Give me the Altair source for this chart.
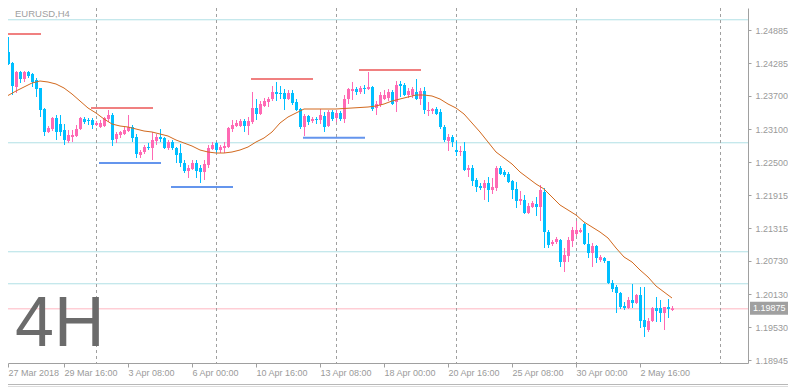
import altair as alt
import pandas as pd

# ---------------- data (EURUSD, H4) ----------------
opens = [
    1.24471, 1.24471, 1.24489, 1.24291, 1.23859, 1.24129, 1.24003, 1.24129, 1.24093, 1.23985,
    1.23841, 1.23463, 1.23049, 1.23103, 1.23301, 1.23193, 1.23085, 1.22887, 1.22959, 1.22977,
    1.23103, 1.23283, 1.23265, 1.23265, 1.23175, 1.23139, 1.23157, 1.23283, 1.23355, 1.22923,
    1.22995, 1.23013, 1.23067, 1.23139, 1.22959, 1.22635, 1.22689, 1.22779, 1.22761, 1.22887,
    1.22959, 1.22941, 1.22761, 1.22869, 1.22761, 1.22671, 1.22491, 1.22347, 1.22383, 1.22491,
    1.22401, 1.22329, 1.22455, 1.22743, 1.22851, 1.22725, 1.22761, 1.22779, 1.23103, 1.23157,
    1.23157, 1.23247, 1.23157, 1.23229, 1.23481, 1.23373, 1.23517, 1.23589, 1.23643, 1.23769,
    1.23751, 1.23751, 1.23643, 1.23751, 1.23589, 1.23463, 1.23139, 1.23337, 1.23247, 1.23283,
    1.23265, 1.23337, 1.23157, 1.23409, 1.23301, 1.23391, 1.23283, 1.23643, 1.23787, 1.23823,
    1.23769, 1.23841, 1.23823, 1.23859, 1.23481, 1.23535, 1.23643, 1.23661, 1.23769, 1.23589,
    1.23913, 1.23895, 1.23715, 1.23715, 1.23769, 1.23643, 1.23787, 1.23427, 1.23427, 1.23463,
    1.23409, 1.23139, 1.22887, 1.22959, 1.22725, 1.22689, 1.22707, 1.22365, 1.22401, 1.22185,
    1.22077, 1.22041, 1.22131, 1.22005, 1.22041, 1.22401, 1.22329, 1.22293, 1.22167, 1.22023,
    1.21807, 1.21825, 1.21591, 1.21699, 1.21753, 1.21699, 1.21969, 1.21249, 1.21033, 1.21069,
    1.21105, 1.20709, 1.20817, 1.21087, 1.21213, 1.21249, 1.21393, 1.21033, 1.20871, 1.20997,
    1.20745, 1.20781, 1.20727, 1.20331, 1.20259, 1.20151, 1.19917, 1.19881, 1.20025, 1.19971,
    1.20115, 1.19665, 1.19485, 1.19647, 1.19881, 1.19881, 1.19791, 1.19899, 1.19845,
]
highs = [
    1.24561, 1.24561, 1.24759, 1.24309, 1.24147, 1.24147, 1.24147, 1.24147, 1.24111, 1.24021,
    1.23841, 1.23481, 1.23157, 1.23319, 1.23355, 1.23355, 1.23193, 1.23085, 1.23085, 1.23175,
    1.23319, 1.23319, 1.23301, 1.23301, 1.23247, 1.23265, 1.23319, 1.23445, 1.23391, 1.23049,
    1.23067, 1.23139, 1.23355, 1.23175, 1.23013, 1.22725, 1.22815, 1.22851, 1.23049, 1.23013,
    1.23103, 1.22959, 1.22905, 1.22905, 1.22779, 1.22833, 1.22545, 1.22455, 1.22545, 1.22545,
    1.22455, 1.22545, 1.22815, 1.22869, 1.22869, 1.22815, 1.22869, 1.23139, 1.23265, 1.23265,
    1.23283, 1.23283, 1.23319, 1.23769, 1.23643, 1.23607, 1.23661, 1.23679, 1.23877, 1.23949,
    1.23877, 1.23823, 1.23805, 1.23805, 1.23643, 1.23481, 1.23373, 1.23355, 1.23319, 1.23319,
    1.23463, 1.23409, 1.23445, 1.23445, 1.23445, 1.23427, 1.23715, 1.23841, 1.23949, 1.23859,
    1.23877, 1.23895, 1.24129, 1.23877, 1.23607, 1.23769, 1.23805, 1.23823, 1.23805, 1.23967,
    1.23967, 1.23931, 1.23841, 1.23859, 1.24003, 1.23841, 1.23859, 1.23589, 1.23481, 1.23499,
    1.23463, 1.23175, 1.23013, 1.22995, 1.22887, 1.22797, 1.22869, 1.22455, 1.22455, 1.22221,
    1.22131, 1.22185, 1.22239, 1.22221, 1.22437, 1.22437, 1.22365, 1.22329, 1.22185, 1.22149,
    1.21987, 1.21915, 1.21771, 1.21807, 1.21879, 1.22095, 1.22041, 1.21285, 1.21105, 1.21159,
    1.21123, 1.20961, 1.21159, 1.21339, 1.21447, 1.21321, 1.21411, 1.21231, 1.21051, 1.21015,
    1.20835, 1.20799, 1.20727, 1.20385, 1.20295, 1.20169, 1.19989, 1.20079, 1.20313, 1.20133,
    1.20259, 1.20259, 1.19701, 1.19899, 1.20079, 1.20025, 1.19899, 1.20043, 1.19917,
]
lows = [
    1.24435, 1.24453, 1.24255, 1.23715, 1.23751, 1.23931, 1.23949, 1.24021, 1.23859, 1.23679,
    1.23319, 1.22977, 1.23031, 1.23067, 1.22905, 1.22977, 1.22815, 1.22851, 1.22869, 1.22959,
    1.23085, 1.23193, 1.23175, 1.23103, 1.23157, 1.23121, 1.23139, 1.23229, 1.22797, 1.22851,
    1.22941, 1.22995, 1.23049, 1.22869, 1.22581, 1.22581, 1.22653, 1.22725, 1.22545, 1.22815,
    1.22869, 1.22743, 1.22725, 1.22725, 1.22491, 1.22419, 1.22311, 1.22221, 1.22365, 1.22221,
    1.22131, 1.22185, 1.22401, 1.22725, 1.22671, 1.22671, 1.22671, 1.22761, 1.23049, 1.23139,
    1.23139, 1.23049, 1.22995, 1.23193, 1.23265, 1.23355, 1.23499, 1.23499, 1.23607, 1.23607,
    1.23643, 1.23445, 1.23625, 1.23535, 1.23427, 1.23103, 1.22977, 1.23175, 1.23211, 1.23193,
    1.23193, 1.23049, 1.23139, 1.23247, 1.23229, 1.23247, 1.23211, 1.23553, 1.23625, 1.23715,
    1.23733, 1.23733, 1.23805, 1.23427, 1.23355, 1.23499, 1.23625, 1.23607, 1.23535, 1.23409,
    1.23679, 1.23697, 1.23661, 1.23661, 1.23625, 1.23535, 1.23373, 1.23337, 1.23373, 1.23355,
    1.23103, 1.22869, 1.22707, 1.22779, 1.22617, 1.22617, 1.22347, 1.22239, 1.22077, 1.21969,
    1.22005, 1.21825, 1.21789, 1.21933, 1.21987, 1.22275, 1.22239, 1.22131, 1.21843, 1.21681,
    1.21735, 1.21573, 1.21573, 1.21681, 1.21537, 1.21447, 1.20961, 1.20961, 1.20997, 1.21033,
    1.20619, 1.20529, 1.20709, 1.20979, 1.21177, 1.21231, 1.21015, 1.20781, 1.20619, 1.20691,
    1.20709, 1.20691, 1.20313, 1.20169, 1.19791, 1.19863, 1.19845, 1.19863, 1.19881, 1.19953,
    1.19521, 1.19359, 1.19449, 1.19629, 1.19629, 1.19629, 1.19485, 1.19701, 1.19827,
]
closes = [
    1.24525, 1.24507, 1.24273, 1.23877, 1.24129, 1.24003, 1.24129, 1.24057, 1.23949, 1.23823,
    1.23445, 1.23049, 1.23121, 1.23301, 1.23049, 1.23049, 1.22905, 1.22995, 1.22995, 1.23103,
    1.23301, 1.23229, 1.23247, 1.23175, 1.23211, 1.23211, 1.23301, 1.23355, 1.22905, 1.23013,
    1.23049, 1.23085, 1.23139, 1.22941, 1.22653, 1.22689, 1.22779, 1.22761, 1.22905, 1.22959,
    1.22923, 1.22761, 1.22869, 1.22761, 1.22635, 1.22491, 1.22347, 1.22401, 1.22491, 1.22347,
    1.22329, 1.22473, 1.22761, 1.22815, 1.22725, 1.22779, 1.22797, 1.23121, 1.23175, 1.23211,
    1.23247, 1.23157, 1.23247, 1.23481, 1.23373, 1.23553, 1.23607, 1.23643, 1.23769, 1.23733,
    1.23733, 1.23643, 1.23751, 1.23571, 1.23445, 1.23139, 1.23337, 1.23229, 1.23283, 1.23265,
    1.23355, 1.23139, 1.23409, 1.23283, 1.23391, 1.23283, 1.23643, 1.23823, 1.23823, 1.23769,
    1.23841, 1.23823, 1.23859, 1.23463, 1.23553, 1.23715, 1.23715, 1.23769, 1.23553, 1.23895,
    1.23877, 1.23715, 1.23787, 1.23823, 1.23643, 1.23787, 1.23445, 1.23445, 1.23463, 1.23373,
    1.23139, 1.22905, 1.22959, 1.22869, 1.22689, 1.22707, 1.22365, 1.22401, 1.22167, 1.22059,
    1.22041, 1.22131, 1.22005, 1.22059, 1.22401, 1.22293, 1.22275, 1.22149, 1.22005, 1.21807,
    1.21843, 1.21591, 1.21717, 1.21771, 1.21699, 1.22005, 1.21249, 1.21015, 1.21069, 1.21123,
    1.20709, 1.20835, 1.21105, 1.21285, 1.21285, 1.21285, 1.21033, 1.20871, 1.20997, 1.20781,
    1.20799, 1.20727, 1.20331, 1.20223, 1.20151, 1.19899, 1.19881, 1.20025, 1.19971, 1.20115,
    1.19647, 1.19539, 1.19647, 1.19881, 1.19827, 1.19791, 1.19899, 1.19863, 1.19875,
]

# moving average
ma_bar = [0, 4, 6, 8, 10, 12, 14, 16, 18, 20,
          22, 24, 26, 28, 30, 32, 34, 36, 38, 40,
          42, 44, 46, 48, 50, 52, 54, 56, 58, 60,
          62, 64, 66, 68, 70, 72, 74, 76, 78, 80,
          84, 88, 92, 94, 96, 98,
          100, 102, 104, 106, 108, 110, 112, 114, 116, 118,
          120, 122, 124, 126, 128, 130, 132, 134, 136, 138,
          140, 142, 144, 146, 148, 150, 152, 154, 156, 158,
          160, 162, 164, 166, 168]
ma_val = [1.23625, 1.23787, 1.23859, 1.23931, 1.23967, 1.23949, 1.23913, 1.23841, 1.23733, 1.23607,
          1.23481, 1.23391, 1.23283, 1.23193, 1.23157, 1.23139, 1.23103, 1.23067, 1.23049, 1.23013,
          1.22977, 1.22905, 1.22851, 1.22797, 1.22725, 1.22689, 1.22671, 1.22671, 1.22689, 1.22725,
          1.22779, 1.22869, 1.22941, 1.23049, 1.23211, 1.23319, 1.23391, 1.23463, 1.23463, 1.23463,
          1.23463, 1.23481, 1.23499, 1.23517, 1.23553, 1.23607,
          1.23643, 1.23679, 1.23715, 1.23715, 1.23697, 1.23643, 1.23553, 1.23481, 1.23373, 1.23211,
          1.23049, 1.22869, 1.22689, 1.22581, 1.22473, 1.22329, 1.22221, 1.22113, 1.22023, 1.21879,
          1.21735, 1.21645, 1.21555, 1.21429, 1.21339, 1.21249, 1.21141, 1.20961, 1.20799, 1.20709,
          1.20565, 1.20439, 1.20277, 1.20169, 1.20061]

# horizontal price levels across the chart
level_price = [1.25078, 1.22864, 1.20902, 1.20326, 1.19875]
level_kind = ["level", "level", "level", "level", "last"]

# short support / resistance segments (bar index from-to)
seg_start = [0, 22.75, 24.75, 42.75, 62.75, 75.75, 89.75]
seg_end = [10.25, 38.25, 40.25, 58.25, 78.25, 91.25, 105.25]
seg_price = [1.24813, 1.23481, 1.22491, 1.22059, 1.24003, 1.22946, 1.24165]
seg_kind = ["resistance", "resistance", "support", "support", "resistance", "support", "resistance"]

# vertical dashed period separators (bar index)
grid_bar = [24, 54, 84, 114, 144, 180]

# axis ticks / labels
x_tick_bar = [2, 16, 32, 48, 64, 80, 96, 112, 128, 144, 160]
x_tick_label = ["27 Mar 2018", "29 Mar 16:00", "3 Apr 08:00", "6 Apr 00:00", "10 Apr 16:00",
                "13 Apr 08:00", "18 Apr 00:00", "20 Apr 16:00", "25 Apr 08:00", "30 Apr 00:00",
                "2 May 16:00"]
y_ticks = [1.18945, 1.19530, 1.20130, 1.20730, 1.21315, 1.21915, 1.22500, 1.23100, 1.23700,
           1.24285, 1.24885]
last_price = [1.19875]

# ---------------- chart ----------------
FONT = "Liberation Sans"
GRAY = "#a0a0a0"
LBL = "#9a9a9a"

n = len(opens)
df = pd.DataFrame({"bar": list(range(n)), "open": opens, "high": highs, "low": lows, "close": closes})
df["dir"] = ["up" if c >= o else "down" for o, c in zip(opens, closes)]
df["top"] = df[["open", "close"]].max(axis=1)
df["bot"] = df[["open", "close"]].min(axis=1)

xs = alt.Scale(domain=[2, 187], nice=False, zero=False)
ys = alt.Scale(domain=[1.18891, 1.25281], nice=False, zero=False)
cs = alt.Scale(domain=["up", "down", "level", "last", "resistance", "support"],
               range=["#ff69b4", "#00bfff", "#b0e0e6", "#ffb6c1", "#f08080", "#6495ed"])

label_expr = "[" + ",".join("'%s'" % s for s in x_tick_label) + "][floor(datum.value/16)]"
xaxis = alt.Axis(values=x_tick_bar, labelExpr=label_expr, labelAlign="left", labelFlush=False,
                 labelOverlap=False, tickSize=4, tickColor=GRAY, domainColor=GRAY,
                 labelColor=LBL, labelFontSize=9, labelFont=FONT, labelPadding=1,
                 grid=False, title=None, orient="bottom")
yaxis = alt.Axis(values=y_ticks, format=".5f", orient="right", tickSize=3, tickColor=GRAY,
                 domainColor=GRAY, labelColor=LBL, labelFontSize=9, labelFont=FONT,
                 labelPadding=4, labelOverlap=False, grid=False, title=None)

levels = alt.Chart(pd.DataFrame({"p": level_price, "k": level_kind})).mark_rule(
    strokeWidth=1, yOffset=0.5).encode(
    y=alt.Y("p:Q", scale=ys, axis=yaxis),
    color=alt.Color("k:N", scale=cs, legend=None))

vgrid = alt.Chart(pd.DataFrame({"b": grid_bar})).transform_calculate(
    xb="datum.b + 0.125").mark_rule(strokeWidth=1, strokeDash=[3, 3], color=GRAY).encode(
    x=alt.X("xb:Q", scale=xs, axis=xaxis))

wicks = alt.Chart(df).transform_calculate(xw="datum.bar + 0.125").mark_rule(strokeWidth=1).encode(
    x=alt.X("xw:Q", scale=xs, axis=xaxis),
    y=alt.Y("low:Q", scale=ys, axis=yaxis), y2="high:Q",
    color=alt.Color("dir:N", scale=cs, legend=None))

bodies = alt.Chart(df).transform_calculate(
    x0="datum.bar - 0.25", x1="datum.bar + 0.5").mark_rect().encode(
    x=alt.X("x0:Q", scale=xs, axis=xaxis), x2="x1:Q",
    y=alt.Y("top:Q", scale=ys, axis=yaxis), y2="bot:Q",
    color=alt.Color("dir:N", scale=cs, legend=None))

ma = alt.Chart(pd.DataFrame({"b": ma_bar, "v": ma_val})).mark_line(
    color="#d2691e", strokeWidth=1).encode(
    x=alt.X("b:Q", scale=xs, axis=xaxis), y=alt.Y("v:Q", scale=ys, axis=yaxis))

segs = alt.Chart(pd.DataFrame({"s": seg_start, "e": seg_end, "p": seg_price, "k": seg_kind})).mark_rule(
    strokeWidth=2).encode(
    x=alt.X("s:Q", scale=xs, axis=xaxis), x2="e:Q",
    y=alt.Y("p:Q", scale=ys, axis=yaxis),
    color=alt.Color("k:N", scale=cs, legend=None))

title_txt = alt.Chart(pd.DataFrame({"t": ["EURUSD,H4"]})).mark_text(
    align="left", baseline="top", font=FONT, fontSize=9.5, color=GRAY).encode(
    x=alt.value(7), y=alt.value(1), text="t:N")

big_txt = alt.Chart(pd.DataFrame({"t": ["4H"]})).mark_text(
    align="left", baseline="alphabetic", font=FONT, fontSize=70, color="#6b6b6b").encode(
    x=alt.value(7), y=alt.value(338), text="t:N")

price_df = pd.DataFrame({"p": last_price})
price_df["t"] = ["%.5f" % v for v in last_price]
price_box = alt.Chart(price_df).mark_point(
    shape="M-1,-0.342L1,-0.342L1,0.342L-1,0.342Z", size=1444, filled=True, color=GRAY,
    opacity=1, strokeWidth=0).encode(
    x=alt.value(761), y=alt.Y("p:Q", scale=ys, axis=yaxis))
price_txt = alt.Chart(price_df).mark_text(
    align="left", baseline="middle", font=FONT, fontSize=9, color="white").encode(
    x=alt.value(745), y=alt.Y("p:Q", scale=ys, axis=yaxis), text="t:N")

win1 = alt.Chart(pd.DataFrame({"a": [0]})).mark_rule(color="#b8b8b8", strokeWidth=1).encode(
    x=alt.value(0), x2=alt.value(780), y=alt.value(376.5))
win2 = alt.Chart(pd.DataFrame({"a": [0]})).mark_rule(color="#dcdcdc", strokeWidth=1).encode(
    x=alt.value(0), x2=alt.value(780), y=alt.value(378.5))

chart = alt.layer(
    levels, vgrid, wicks, bodies, ma, segs, title_txt, big_txt, price_box, price_txt, win1, win2
).properties(
    width=740, height=355,
    autosize=alt.AutoSizeParams(type="none"),
    padding={"left": 0, "top": 0, "right": 40, "bottom": 24},
    background="white",
).configure(font=FONT, view=alt.ViewConfig(stroke=None))

chart.save("out.html", embed_options={"renderer": "svg", "actions": False})
